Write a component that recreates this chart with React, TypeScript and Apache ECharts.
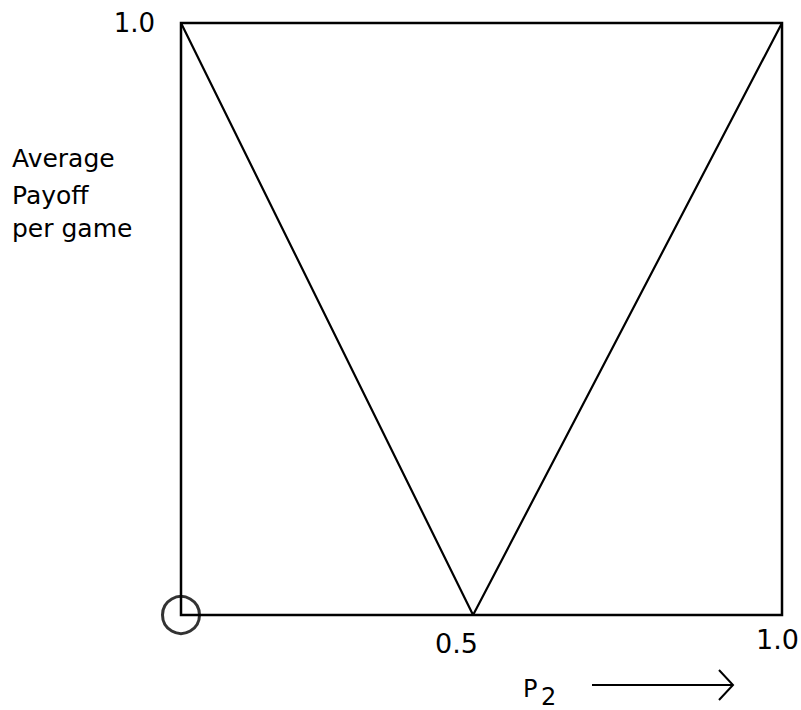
import React, { useEffect, useRef } from "react";
import * as echarts from "echarts";

// V-shaped payoff curve: [p2, average payoff]
const curveX = [0, 0.486, 1];
const curveY = [1, 0, 1];
// marked point (circle at the origin)
const markX = [0];
const markY = [0];
// tick labels
const xTickValues = [0.5, 1];
const xTickLabels = ["0.5", "1.0"];
const yTickValues = [1];
const yTickLabels = ["1.0"];
const yAxisTitleLines = ["Average", "Payoff", "per game"];
const xAxisTitle = ["P", "2"];

const FONT = "DejaVu Sans";

export default function App() {
  const ref = useRef<HTMLDivElement>(null);
  useEffect(() => {
    if (!ref.current) return;
    const chart = echarts.init(ref.current, null, { renderer: "svg" });
    const curve = curveX.map((x, i) => [x, curveY[i]]);
    const marks = markX.map((x, i) => [x, markY[i]]);
    const titleYs = [146, 183, 216];
    chart.setOption({
      animation: false,
      backgroundColor: "#ffffff",
      grid: {
        left: 181,
        top: 23,
        right: 19,
        bottom: 95,
        containLabel: false,
        outerBoundsMode: "none",
        show: true,
        borderColor: "#000",
        borderWidth: 2.5,
        backgroundColor: "transparent",
      },
      xAxis: {
        type: "value",
        min: 0,
        max: 1,
        interval: 0.5,
        axisLine: { show: false },
        axisTick: { show: false },
        splitLine: { show: false },
        axisLabel: {
          margin: 11,
          fontFamily: FONT,
          fontSize: 27,
          color: "#000",
          formatter: (v: number) => {
            const i = xTickValues.findIndex((t) => Math.abs(t - v) < 1e-9);
            if (i < 0) return "";
            return i === 0 ? `{a|${xTickLabels[i]}}` : `{b|${xTickLabels[i]}}`;
          },
          rich: {
            a: { fontFamily: FONT, fontSize: 27, lineHeight: 27, color: "#000", padding: [8, 50, 0, 0] },
            b: { fontFamily: FONT, fontSize: 27, lineHeight: 27, color: "#000", padding: [0, 9, 0, 0] },
          },
        },
      },
      yAxis: {
        type: "value",
        min: 0,
        max: 1,
        interval: 1,
        axisLine: { show: false },
        axisTick: { show: false },
        splitLine: { show: false },
        axisLabel: {
          margin: 26,
          fontFamily: FONT,
          fontSize: 26,
          color: "#000",
          padding: [7, 0, 0, 0],
          formatter: (v: number) => {
            const i = yTickValues.findIndex((t) => Math.abs(t - v) < 1e-9);
            return i < 0 ? "" : yTickLabels[i];
          },
        },
      },
      series: [
        {
          type: "line",
          data: curve,
          showSymbol: false,
          symbol: "none",
          lineStyle: { color: "#000", width: 2.2 },
          z: 3,
        },
        {
          type: "scatter",
          data: marks,
          symbol: "circle",
          symbolSize: 37,
          clip: false,
          itemStyle: { color: "rgba(0,0,0,0)", borderColor: "#000", borderWidth: 3 },
          z: 4,
        },
      ],
      graphic: [
        ...yAxisTitleLines.map((t, i) => ({
          type: "text",
          left: 12,
          top: titleYs[i],
          style: { text: t, fontFamily: FONT, fontSize: 25, fill: "#000" },
        })),
        {
          type: "text",
          x: 523,
          y: 677,
          style: { text: xAxisTitle[0], fontFamily: FONT, fontSize: 24, fill: "#000", verticalAlign: "top" },
        },
        {
          type: "text",
          x: 541,
          y: 685,
          style: { text: xAxisTitle[1], fontFamily: FONT, fontSize: 24, fill: "#000", verticalAlign: "top" },
        },
        {
          type: "line",
          shape: { x1: 592, y1: 685, x2: 733, y2: 685 },
          style: { stroke: "#000", lineWidth: 2 },
        },
        {
          type: "polyline",
          shape: { points: [[719, 670], [733, 685], [719, 700]] },
          style: { stroke: "#000", lineWidth: 2, fill: null },
        },
      ],
    });
    return () => chart.dispose();
  }, []);
  return (
    <div
      ref={ref}
      style={{ position: "fixed", left: 0, top: 0, width: 801, height: 710, background: "#fff" }}
    />
  );
}
